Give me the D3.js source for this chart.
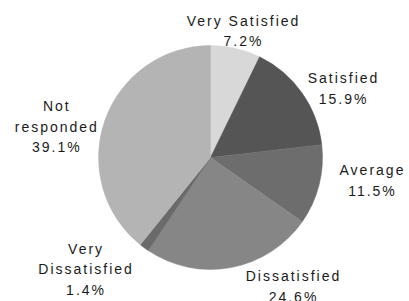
<!DOCTYPE html>
<html>
<head>
<meta charset="utf-8">
<script src="https://cdn.jsdelivr.net/npm/d3@7"></script>
<style>
  html, body { margin: 0; padding: 0; background: #fff; }
  svg { display: block; }
  text { font-family: "Liberation Sans", Arial, sans-serif; font-size: 14px; fill: #1a1a1a; letter-spacing: 2px; }
</style>
</head>
<body>
<script>
var categories = ["Very Satisfied", "Satisfied", "Average", "Dissatisfied", "Very Dissatisfied", "Not responded"];
var values = [7.2, 15.9, 11.5, 24.6, 1.4, 39.1];
var labelLines = [["Very Satisfied"], ["Satisfied"], ["Average"], ["Dissatisfied"], ["Very", "Dissatisfied"], ["Not", "responded"]];
var colors = ["#d8d8d8", "#555555", "#6d6d6d", "#868686", "#6a6a6a", "#b4b4b4"];
// where each label block sits: [angle in degrees clockwise from top, distance from the centre]
var labelLayout = [[14.2, 130.5], [62.4, 149], [98.1, 162.6], [147.6, 153], [228.3, 168], [281.2, 157.7]];

var width = 409, height = 301;
var cx = 210.5, cy = 157.5, radius = 112;
var lineH = 20.5;

var data = categories.map(function (c, i) {
    return {name: c, value: values[i], lines: labelLines[i].concat([values[i].toFixed(1) + "%"]), color: colors[i], layout: labelLayout[i]};
});

var svg = d3.select("body").append("svg")
    .attr("width", width)
    .attr("height", height);

var pie = d3.pie()
    .sort(null)
    .value(function (d) { return d.value; });

var arc = d3.arc()
    .innerRadius(0)
    .outerRadius(radius);

// labels go first, the pie is painted over them
var labelG = svg.append("g").attr("transform", "translate(" + cx + "," + cy + ")");
var labels = labelG.selectAll("text")
    .data(data)
    .enter().append("text")
    .attr("text-anchor", "middle")
    .attr("transform", function (d) {
        var a = d.layout[0] * Math.PI / 180;
        var x = d.layout[1] * Math.sin(a) + 1;
        var y = -d.layout[1] * Math.cos(a);
        return "translate(" + x + "," + y + ")";
    });

labels.selectAll("tspan")
    .data(function (d) { return d.lines.map(function (l, i) { return {text: l, i: i, n: d.lines.length}; }); })
    .enter().append("tspan")
    .attr("x", 0)
    .attr("y", function (t) { return (t.i - (t.n - 1) / 2) * lineH + 5; })
    .text(function (t) { return t.text; });

var pieG = svg.append("g").attr("transform", "translate(" + cx + "," + cy + ")");
pieG.selectAll("path")
    .data(pie(data))
    .enter().append("path")
    .attr("d", arc)
    .attr("fill", function (d) { return d.data.color; })
    .attr("stroke", function (d) { return d.data.color; })
    .attr("stroke-width", 0.5);
</script>
</body>
</html>
